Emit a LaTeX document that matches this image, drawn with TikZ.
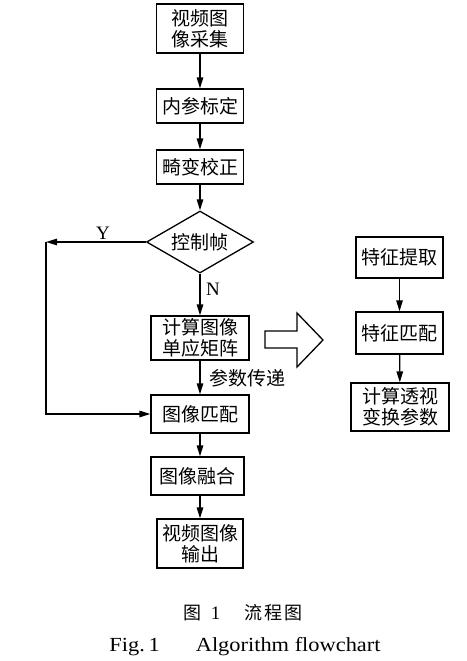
\documentclass[tikz,border=0pt]{standalone}
\usepackage{fontspec}
\newfontfamily\cjk{Noto Sans CJK SC}
\newfontfamily\tms{Liberation Serif}
\usetikzlibrary{arrows.meta,shapes.geometric}
\begin{document}
\begin{tikzpicture}[x=1pt,y=-1pt,
  box/.style={draw,line width=1.3pt,inner sep=0pt,align=center,font=\cjk\fontsize{19}{21}\selectfont},
  dec/.style={draw,diamond,line width=1.3pt,inner sep=0pt,aspect=1.73,minimum width=107pt,minimum height=62pt,font=\cjk\fontsize{19}{21}\selectfont},
  arr/.style={line width=1.3pt,-{Triangle[length=11pt,width=6.5pt]}},
  lab/.style={inner sep=0pt,font=\tms\fontsize{19}{21}\selectfont},
  clab/.style={inner sep=0pt,font=\cjk\fontsize{19}{21}\selectfont},
]
\useasboundingbox (0,0) rectangle (466,661);
\node[box,minimum width=87pt,minimum height=49pt] (m1) at (200,28.5) {视频图\\像采集};
\node[box,minimum width=87pt,minimum height=34pt] (m2) at (200,106) {内参标定};
\node[box,minimum width=87pt,minimum height=34pt] (m3) at (200,167) {畸变校正};
\node[dec] (d) at (200,242) {控制帧};
\node[box,minimum width=98pt,minimum height=44pt] (m4) at (200,338) {计算图像\\单应矩阵};
\node[box,minimum width=98pt,minimum height=38pt] (m5) at (200,414) {图像匹配};
\node[box,minimum width=93pt,minimum height=38pt] (m6) at (197.5,476) {图像融合};
\node[box,minimum width=86pt,minimum height=49pt] (m7) at (200,543.5) {视频图像\\输出};
\node[box,minimum width=87pt,minimum height=41pt] (r1) at (399.5,257.5) {特征提取};
\node[box,minimum width=87pt,minimum height=42pt] (r2) at (399.5,333) {特征匹配};
\node[box,minimum width=98pt,minimum height=48pt] (r3) at (400,407) {计算透视\\变换参数};
\coordinate (yl) at (46,242);
\draw[arr] (m1) -- (m2);
\draw[arr] (m2) -- (m3);
\draw[arr] (m3) -- (d);
\draw[arr] (d) -- (m4);
\draw[arr] (m4) -- (m5);
\draw[arr] (m5.south) -- (m5.south |- m6.north);
\draw[arr] (m5.south |- m6.south) -- (m7.north);
\draw[arr] (d.west) -- (yl);
\draw[arr] (yl) -- (yl |- m5.west) -- (m5.west);
\draw[arr] (r1) -- (r2);
\draw[arr] (r2) -- (r3);
\node[lab] (ly) at (103,233) {Y};
\node[lab] (ln) at (213,289) {N};
\node[clab] (lp) at (247,378) {参数传递};
\draw[line width=1.3pt] (265,331) -- (297,331) -- (297,313) -- (323,340) -- (297,367) -- (297,348) -- (265,348) -- cycle;
\node[inner sep=0pt,font=\cjk\fontsize{18}{20}\selectfont] (cap1) at (243,613) {图\hspace{9pt}{\tms\fontsize{19}{21}\selectfont 1}\hspace{24pt}流\hspace{2pt}程\hspace{2pt}图};
\node[inner sep=0pt,font=\tms\fontsize{20}{22}\selectfont] (cap2) at (245,647) {\scalebox{1.12}[1]{Fig.\,1}\hspace{36pt}\scalebox{1.12}[1]{Algorithm flowchart}};
\end{tikzpicture}
\end{document}
